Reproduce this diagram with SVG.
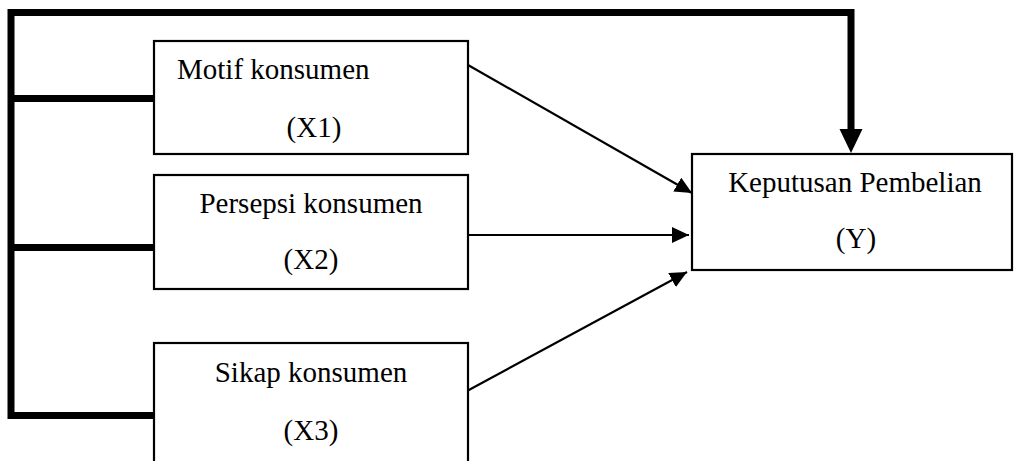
<svg xmlns="http://www.w3.org/2000/svg" width="1014" height="461" viewBox="0 0 1014 461">
<style>
.box{fill:#fff;stroke:#000;stroke-width:2.2}
.t{font-family:"Liberation Serif","Times New Roman",serif;font-size:29px;fill:#000;text-anchor:middle}
.thick{fill:none;stroke:#000;stroke-width:7;stroke-linejoin:miter}
.thin{fill:none;stroke:#000;stroke-width:2.2}
</style>
<defs>
<marker id="ah" markerUnits="userSpaceOnUse" markerWidth="18" markerHeight="16" refX="17" refY="8" orient="auto">
<path d="M0,0 L17,8 L0,16 Z" fill="#000"/>
</marker>
<marker id="ahb" markerUnits="userSpaceOnUse" markerWidth="26" markerHeight="24" refX="25" refY="12" orient="auto">
<path d="M0,0 L25,12 L0,24 Z" fill="#000"/>
</marker>
</defs>
<g id="connectors">
<path class="thick" d="M11,419 L11,12.5 L851,12.5 L851,130" />
<path d="M839.5,129 L862.5,129 L851,153 Z" fill="#000"/>
<line class="thick" x1="11" y1="98.5" x2="154" y2="98.5"/>
<line class="thick" x1="11" y1="247.5" x2="154" y2="247.5"/>
<line class="thick" x1="8" y1="415.5" x2="154" y2="415.5"/>
<line class="thin" x1="468" y1="65" x2="692" y2="193" marker-end="url(#ah)"/>
<line class="thin" x1="464" y1="235" x2="689" y2="235" marker-end="url(#ah)"/>
<line class="thin" x1="467" y1="391" x2="687" y2="272" marker-end="url(#ah)"/>
</g>
<g id="x1">
<rect class="box" x="154" y="41" width="314" height="113"/>
<text class="t" x="177" y="79" text-anchor="start" style="text-anchor:start">Motif konsumen</text>
<text class="t" x="314" y="137">(X1)</text>
</g>
<g id="x2">
<rect class="box" x="154" y="175" width="314" height="114"/>
<text class="t" x="311" y="213">Persepsi konsumen</text>
<text class="t" x="311" y="269">(X2)</text>
</g>
<g id="x3">
<rect class="box" x="154" y="343" width="314" height="130"/>
<text class="t" x="311" y="382">Sikap konsumen</text>
<text class="t" x="311" y="440">(X3)</text>
</g>
<g id="y">
<rect class="box" x="692" y="154" width="320" height="116"/>
<text class="t" x="855" y="192">Keputusan Pembelian</text>
<text class="t" x="856" y="248">(Y)</text>
</g>
</svg>
